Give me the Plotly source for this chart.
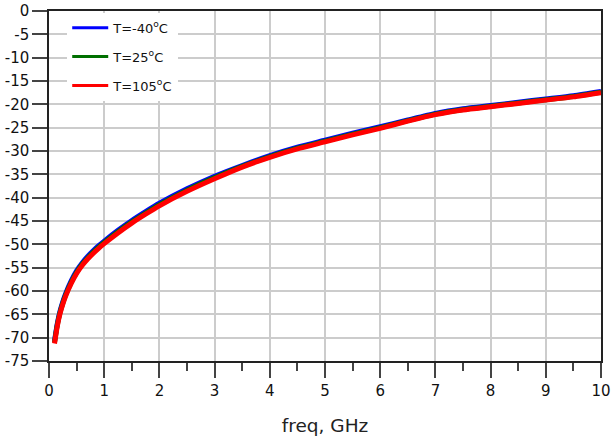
import plotly.graph_objects as go

freq = [0.1, 0.15, 0.2, 0.25, 0.3, 0.4, 0.5, 0.6, 0.7, 0.8, 0.9, 1.0, 1.25, 1.5, 1.75,
        2.0, 2.5, 3.0, 3.5, 4.0, 4.5, 5.0, 5.5, 6.0, 6.5, 7.0, 7.5, 8.0, 8.5, 9.0, 9.5, 10.0]
s_m40 = [-70.7, -67.0, -64.3, -62.3, -60.6, -57.9, -55.7, -54.0, -52.6, -51.4, -50.3,
         -49.3, -47.0, -44.9, -43.0, -41.2, -38.1, -35.4, -33.1, -31.0, -29.2, -27.7,
         -26.2, -24.8, -23.35, -21.95, -20.95, -20.25, -19.55, -18.85, -18.15, -17.25]
s_25 = [-71.0, -67.3, -64.6, -62.6, -60.9, -58.2, -56.0, -54.3, -52.9, -51.7, -50.6,
        -49.6, -47.3, -45.2, -43.3, -41.5, -38.4, -35.7, -33.3, -31.2, -29.4, -27.9,
        -26.4, -25.0, -23.5, -22.1, -21.1, -20.4, -19.7, -19.0, -18.3, -17.4]
s_105 = [-71.25, -67.55, -64.85, -62.85, -61.15, -58.45, -56.25, -54.55, -53.15, -51.95,
         -50.85, -49.85, -47.55, -45.45, -43.55, -41.75, -38.65, -35.95, -33.45, -31.35,
         -29.55, -28.05, -26.55, -25.15, -23.6, -22.2, -21.2, -20.5, -19.8, -19.1, -18.4, -17.5]
names = ["T=-40<sup>o</sup>C", "T=25<sup>o</sup>C", "T=105<sup>o</sup>C"]
colors = ["#0000ff", "#007000", "#ff0000"]
x_ticks = list(range(0, 11))
y_ticks = list(range(-75, 1, 5))

FONT = "DejaVu Sans, Verdana, sans-serif"

fig = go.Figure()
for i, (ys, nm, c) in enumerate(zip([s_m40, s_25, s_105], names, colors)):
    fig.add_trace(go.Scatter(
        x=freq, y=ys, mode="lines", name=nm, showlegend=False,
        line=dict(color=c, width=5, shape="spline", smoothing=0.6),
    ))
# legend entries (thinner line symbols, as in the reference)
for i, (nm, c) in enumerate(zip(names, colors)):
    fig.add_trace(go.Scatter(
        x=[None], y=[None], mode="lines", name=nm, legendgroup=f"g{i}",
        line=dict(color=c, width=3),
    ))

fig.update_layout(
    width=611, height=439,
    margin=dict(l=49, r=10, t=11, b=78, autoexpand=False),
    paper_bgcolor="white", plot_bgcolor="white",
    font=dict(family=FONT, size=14, color="#111"),
    showlegend=True,
    legend=dict(
        x=0.033, y=0.995, xanchor="left", yanchor="top",
        bgcolor="white", borderwidth=0,
        font=dict(family=FONT, size=13, color="#111"),
        tracegroupgap=9, itemwidth=36,
    ),
)
fig.update_xaxes(
    range=[0, 10], tickvals=x_ticks, ticktext=[str(v) for v in x_ticks],
    showgrid=True, gridcolor="#cccccc", gridwidth=1.5,
    showline=True, linecolor="#222", linewidth=1.5, mirror=True,
    ticks="outside", ticklen=15, tickcolor="#444", tickwidth=1.5,
    minor=dict(dtick=0.5, ticks="outside", ticklen=8, tickcolor="#444", tickwidth=1.5, showgrid=False),
    zeroline=False, automargin=False,
    tickfont=dict(family=FONT, size=15, color="#111"),
    title=dict(text="freq, GHz", font=dict(family=FONT, size=18.5, color="#222"), standoff=20),
)
fig.update_yaxes(
    range=[-75, 0], tickvals=y_ticks, ticktext=[str(v) for v in y_ticks],
    showgrid=True, gridcolor="#cccccc", gridwidth=1.5,
    showline=True, linecolor="#222", linewidth=1.5, mirror=True,
    ticks="outside", ticklen=15, tickcolor="#444", tickwidth=1.5,
    zeroline=False, automargin=False,
    tickfont=dict(family=FONT, size=15, color="#111"),
)

# remove the browser's default 8px page margin so the figure fills the window
fig.write_html("out.html", config={"displayModeBar": False},
               post_script="document.body.style.margin='0';")
